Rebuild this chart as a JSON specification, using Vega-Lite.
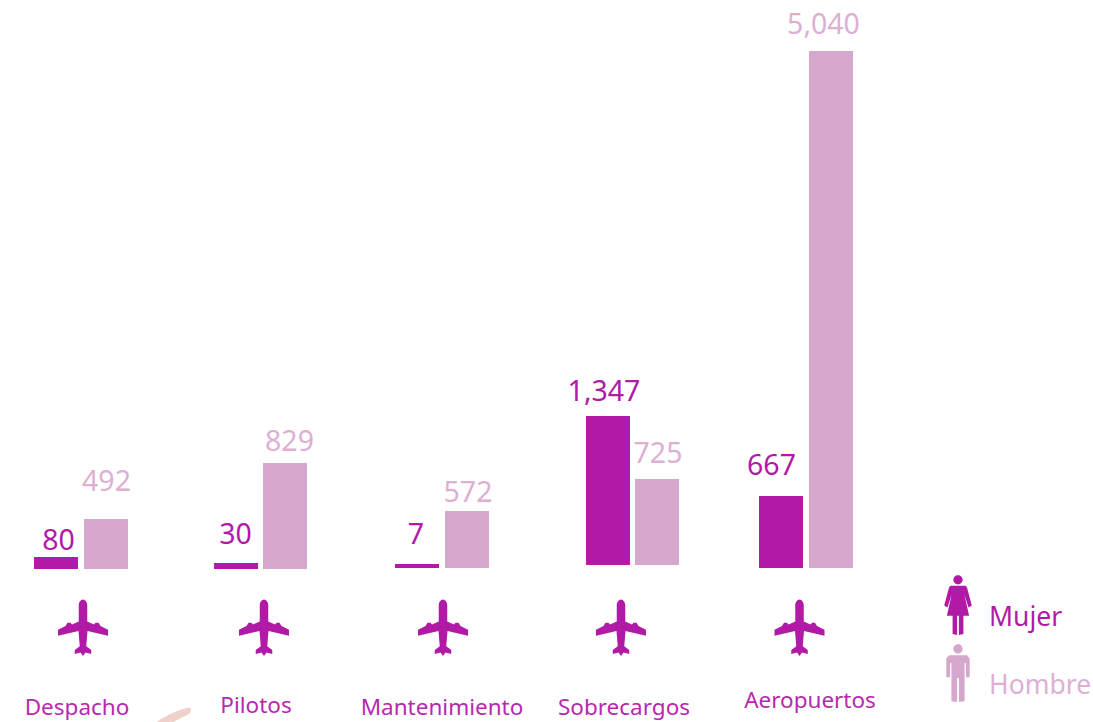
{
"$schema":"https://vega.github.io/schema/vega-lite/v6.json",
"width":1093,"height":722,"padding":0,"autosize":{"type":"fit","contains":"padding"},
"background":"white",
"config":{"view":{"stroke":null},"font":"Noto Sans","text":{"font":"Noto Sans"}},
"datasets":{"filas":[
{"categoria":"Despacho","orden":1,"genero":"Mujer","valor":80},
{"categoria":"Despacho","orden":1,"genero":"Hombre","valor":492},
{"categoria":"Pilotos","orden":2,"genero":"Mujer","valor":30},
{"categoria":"Pilotos","orden":2,"genero":"Hombre","valor":829},
{"categoria":"Mantenimiento","orden":3,"genero":"Mujer","valor":7},
{"categoria":"Mantenimiento","orden":3,"genero":"Hombre","valor":572},
{"categoria":"Sobrecargos","orden":4,"genero":"Mujer","valor":1347},
{"categoria":"Sobrecargos","orden":4,"genero":"Hombre","valor":725},
{"categoria":"Aeropuertos","orden":5,"genero":"Mujer","valor":667},
{"categoria":"Aeropuertos","orden":5,"genero":"Hombre","valor":5040}
]},
"data":{"name":"filas"},
"resolve":{"scale":{"x":"independent","y":"independent"}},
"layer":[
{"transform":[{"filter":"datum.genero==='Mujer'"}],
 "mark":{"type":"bar","orient":"vertical","width":44,"yOffset":{"expr":"datum.orden===4?-3:(datum.orden<=2?1:0)"},"y2Offset":{"expr":"datum.orden===4?-3:(datum.orden<=2?1:0)"}},
 "encoding":{
  "x":{"field":"orden","type":"quantitative","axis":null,"scale":{"domain":[1,2,3,4,5],"range":[55,235,416,607,780],"zero":false,"nice":false,"padding":0}},
  "y":{"field":"valor","type":"quantitative","axis":null,"stack":null,"scale":{"domain":[0,7,30,80,492,572,667,725,829,1347,5040],"range":[567,563,561,555,517,510,495,481,461,418,50],"nice":false}},
  "y2":{"datum":0},
  "color":{"field":"genero","type":"nominal","scale":{"domain":["Mujer","Hombre"],"range":["#B01AA7","#D6A7CC"]}}
 }},
{"transform":[{"filter":"datum.genero==='Hombre'"}],
 "mark":{"type":"bar","orient":"vertical","width":44,"yOffset":{"expr":"datum.orden===4?-3:(datum.orden<=2?1:0)"},"y2Offset":{"expr":"datum.orden===4?-3:(datum.orden<=2?1:0)"}},
 "encoding":{
  "x":{"field":"orden","type":"quantitative","axis":null,"scale":{"domain":[1,2,3,4,5],"range":[105,284,466,656,830],"zero":false,"nice":false,"padding":0}},
  "y":{"field":"valor","type":"quantitative","axis":null,"stack":null,"scale":{"domain":[0,7,30,80,492,572,667,725,829,1347,5040],"range":[567,563,561,555,517,510,495,481,461,418,50],"nice":false}},
  "y2":{"datum":0},
  "color":{"field":"genero","type":"nominal"}
 }},
{"transform":[{"filter":"datum.genero==='Mujer'"}],
 "mark":{"type":"text","fontSize":28.5,"baseline":"middle","align":"center","fill":"#B01AA7"},
 "encoding":{
  "x":{"field":"orden","type":"quantitative","axis":null,"scale":{"domain":[1,2,3,4,5],"range":[57.5,234.5,415,603,770.5],"zero":false,"nice":false}},
  "y":{"field":"orden","type":"quantitative","axis":null,"scale":{"domain":[1,2,3,4,5],"range":[540,533.5,534,391,464.5],"zero":false,"nice":false}},
  "text":{"field":"valor","type":"quantitative","format":","}
 }},
{"transform":[{"filter":"datum.genero==='Hombre'"}],
 "mark":{"type":"text","fontSize":28.5,"baseline":"middle","align":"center","fill":"#DDAFD3"},
 "encoding":{
  "x":{"field":"orden","type":"quantitative","axis":null,"scale":{"domain":[1,2,3,4,5],"range":[105.5,288.5,467,657,822.5],"zero":false,"nice":false}},
  "y":{"field":"orden","type":"quantitative","axis":null,"scale":{"domain":[1,2,3,4,5],"range":[481,441,491.5,453,23.5],"zero":false,"nice":false}},
  "text":{"field":"valor","type":"quantitative","format":","}
 }},
{"transform":[{"filter":"datum.genero==='Mujer'"}],
 "mark":{"type":"point","filled":true,"opacity":1,"size":2500,"fill":"#B01AA7","strokeWidth":0,
  "shape":"M0,-1.13 C0.1,-1.13 0.17,-1 0.17,-0.9 L0.17,-0.25 L0.44,-0.13 L0.5,-0.2 L0.62,-0.2 L0.7,-0.07 L1,0.08 L1,0.32 L0.18,0.13 L0.13,0.74 L0.33,0.89 L0.33,1.05 L0.1,0.99 L0,1.13 L-0.1,0.99 L-0.33,1.05 L-0.33,0.89 L-0.13,0.74 L-0.18,0.13 L-1,0.32 L-1,0.08 L-0.7,-0.07 L-0.62,-0.2 L-0.5,-0.2 L-0.44,-0.13 L-0.17,-0.25 L-0.17,-0.9 C-0.17,-1 -0.1,-1.13 0,-1.13 Z"},
 "encoding":{
  "x":{"field":"orden","type":"quantitative","axis":null,"scale":{"domain":[1,2,3,4,5],"range":[82,263,442,620,798.5],"zero":false,"nice":false}},
  "y":{"field":"orden","type":"quantitative","axis":null,"scale":{"domain":[1,5],"range":[626.7,626.7],"zero":false,"nice":false}}
 }},
{"transform":[{"filter":"datum.genero==='Mujer'"}],
 "mark":{"type":"text","fontSize":22.5,"baseline":"middle","align":"center","fill":"#B828AF"},
 "encoding":{
  "x":{"field":"orden","type":"quantitative","axis":null,"scale":{"domain":[1,2,3,4,5],"range":[76,255,441,623,809],"zero":false,"nice":false}},
  "y":{"field":"orden","type":"quantitative","axis":null,"scale":{"domain":[1,2,3,4,5],"range":[707,705,707,707,700],"zero":false,"nice":false}},
  "text":{"field":"categoria","type":"nominal"}
 }},
{"data":{"values":[{"adorno":"trazo"}]},
 "mark":{"type":"point","filled":true,"size":1600,"fill":"#EBC4BE","strokeWidth":0,"opacity":0.8,
  "shape":"M-1,0.5 C-0.5,0.05 0.3,-0.3 0.85,-0.42 C0.98,-0.42 0.98,-0.22 0.85,-0.1 C0.4,0.12 0,0.3 -0.4,0.6 Z"},
 "encoding":{
  "x":{"datum":171,"type":"quantitative","axis":null,"scale":{"domain":[0,1093],"range":[0,1093],"nice":false}},
  "y":{"datum":715,"type":"quantitative","axis":null,"scale":{"domain":[0,722],"range":[0,722],"nice":false}}
 }},
{"mark":{"type":"point","filled":true,"opacity":0,"size":1},
 "encoding":{
  "x":{"field":"orden","type":"quantitative","axis":null,"scale":{"domain":[1,5],"range":[0,1],"zero":false,"nice":false}},
  "y":{"field":"orden","type":"quantitative","axis":null,"scale":{"domain":[1,5],"range":[0,1],"zero":false,"nice":false}},
  "color":{"field":"genero","type":"nominal","legend":{"orient":"none","legendX":927,"legendY":574,"title":null,"symbolSize":3600,"symbolOpacity":1,"symbolStrokeWidth":0,"rowPadding":8,"labelOffset":1,"labelFontSize":26.5,"labelFont":"Noto Sans","padding":0,"labelLimit":200,"encode":{"labels":{"update":{"dy":{"value":13},"fill":{"signal":"datum.value==='Mujer'?'#B01AA7':'#DDAFD3'"}}}}}},
  "shape":{"field":"genero","type":"nominal","scale":{"domain":["Mujer","Hombre"],"range":[
   "M0,-0.995 A0.155,0.155 0 1 1 0,-0.685 A0.155,0.155 0 1 1 0,-0.995 Z M-0.25,-0.64 L0.25,-0.64 L0.3,-0.58 L0.46,0.02 L0.35,0.08 L0.21,-0.36 L0.37,0.36 L0.18,0.36 L0.18,0.97 L0.03,1 L0.03,0.36 L-0.03,0.36 L-0.03,1 L-0.18,0.97 L-0.18,0.36 L-0.37,0.36 L-0.21,-0.36 L-0.35,0.08 L-0.46,0.02 L-0.3,-0.58 Z",
   "M0,-0.955 A0.155,0.155 0 1 1 0,-0.645 A0.155,0.155 0 1 1 0,-0.955 Z M-0.3,-0.59 L0.3,-0.59 L0.39,-0.48 L0.39,0.14 L0.27,0.14 L0.26,-0.33 L0.22,-0.33 L0.22,0.94 L0.03,0.97 L0.03,0.17 L-0.03,0.17 L-0.03,0.97 L-0.22,0.94 L-0.22,-0.33 L-0.26,-0.33 L-0.27,0.14 L-0.39,0.14 L-0.39,-0.48 Z"
  ]},"legend":{"orient":"none","legendX":927,"legendY":574,"title":null,"symbolSize":3600,"symbolOpacity":1,"symbolStrokeWidth":0,"rowPadding":8,"labelOffset":1,"labelFontSize":26.5,"labelFont":"Noto Sans","padding":0,"labelLimit":200,"encode":{"labels":{"update":{"dy":{"value":13},"fill":{"signal":"datum.value==='Mujer'?'#B01AA7':'#DDAFD3'"}}}}}}
 }}
]}
